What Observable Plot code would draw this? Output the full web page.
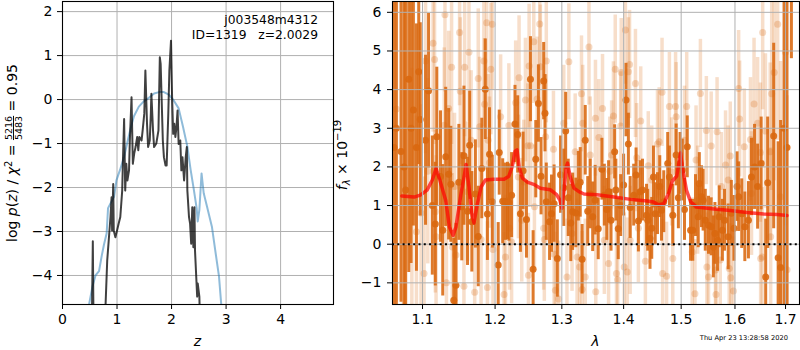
<!DOCTYPE html>
<html><head><meta charset="utf-8">
<script src="https://cdn.jsdelivr.net/npm/d3@7"></script>
<script src="https://cdn.jsdelivr.net/npm/@observablehq/plot@0.6"></script>
<style>
html,body{margin:0;padding:0;background:#fff;}
#wrap{position:relative;width:800px;height:350px;overflow:hidden;font-family:"DejaVu Sans",sans-serif;background:#fff;}
#wrap svg{position:absolute;top:0;overflow:visible;}
</style></head><body><div id="wrap"></div>
<script>
// ---------- Left panel data: log p(z) ----------
const zTicks = [0, 1, 2, 3, 4];
const logpTicks = [-4, -3, -2, -1, 0, 1, 2];
// smooth template p(z) (blue)
const pzBlue = [[0.45,-5.2],[0.49,-4.64],[0.55,-4.25],[0.605,-4.0],[0.67,-3.9],[0.72,-3.55],[0.76,-3.3],[0.81,-3.04],[0.835,-2.47],[0.88,-2.36],[0.945,-2.21],[0.99,-1.83],[1.055,-1.60],[1.13,-1.30],[1.19,-0.97],[1.25,-0.65],[1.31,-0.38],[1.40,-0.16],[1.49,-0.04],[1.585,0.04],[1.68,0.14],[1.77,0.17],[1.86,0.17],[1.95,0.11],[2.04,-0.02],[2.13,-0.20],[2.21,-0.62],[2.29,-1.07],[2.35,-1.60],[2.41,-2.06],[2.46,-2.47],[2.48,-2.77],[2.51,-2.51],[2.55,-1.68],[2.59,-2.13],[2.65,-2.43],[2.74,-2.89],[2.80,-3.42],[2.87,-4.02],[2.91,-4.64],[2.95,-5.2]];
// jagged p(z) (dark)
const pzDark = [[0.53,-6],[0.556,-3.22],[0.575,-6],[0.75,-6],[0.82,-3.66],[0.88,-2.67],[0.90,-2.22],[0.91,-2.98],[0.93,-1.92],[0.94,-2.98],[0.97,-3.13],[1.0,-2.98],[1.03,-2.82],[1.06,-2.67],[1.095,-2.07],[1.11,-1.31],[1.13,-0.44],[1.15,-2.07],[1.17,-1.46],[1.19,-1.84],[1.22,-1.61],[1.235,-0.93],[1.266,0.05],[1.29,-1.46],[1.315,-1.23],[1.34,-1.08],[1.37,-0.85],[1.39,-1.15],[1.41,-0.85],[1.45,-0.93],[1.47,-0.70],[1.50,-0.32],[1.52,0.66],[1.55,-0.55],[1.57,-1.08],[1.60,-0.93],[1.62,-0.32],[1.63,0.13],[1.66,-0.70],[1.68,-1.08],[1.72,-1.0],[1.76,-0.70],[1.785,0.96],[1.80,0.81],[1.84,-0.93],[1.86,-1.31],[1.89,-1.50],[1.91,-1.50],[1.94,-0.33],[1.96,0.66],[1.99,1.34],[2.01,0.05],[2.03,-0.78],[2.05,-0.55],[2.07,-0.85],[2.09,-0.63],[2.11,-0.25],[2.13,-1.01],[2.16,-0.93],[2.18,-1.61],[2.20,-1.31],[2.23,-1.84],[2.26,-1.31],[2.28,-1.08],[2.29,-2.07],[2.32,-2.67],[2.34,-2.82],[2.36,-3.28],[2.38,-2.45],[2.40,-3.36],[2.42,-2.45],[2.43,-3.43],[2.45,-3.96],[2.47,-4.48],[2.48,-4.18],[2.51,-4.48],[2.54,-6]];
const fieldName = "j003548m4312";
const objInfo = "ID=1319   z=2.0029";
const chi2Num = "5216", chi2Den = "5483", chi2Val = "0.95";

// ---------- Right panel data: spectrum (λ, f, err) ----------
const lamTicks = [1.1, 1.2, 1.3, 1.4, 1.5, 1.6, 1.7];
const fluxTicks = [-1, 0, 1, 2, 3, 4, 5, 6];
const zeroLevel = [0];
const specDark = [[1.063,2.5,5],[1.066,3.0,5],[1.072,2.4,3.9],[1.076,2.0,4.5],[1.078,1.40,4.9],[1.082,4.27,5.0],[1.085,3.0,3.5],[1.088,3.47,3.0],[1.092,2.5,3.2],[1.095,4.46,2.4],[1.097,3.23,2.5],[1.104,2.69,2.2],[1.108,3.97,2.0],[1.113,1.0,1.8],[1.117,0.52,1.6],[1.119,2.78,1.8],[1.124,1.75,1.7],[1.127,0.36,1.7],[1.131,2.26,1.8],[1.135,1.81,1.7],[1.138,1.55,1.5],[1.142,-1.45,1.6],[1.145,-1.06,1.6],[1.149,1.60,1.5],[1.153,0.97,1.4],[1.156,2.29,1.8],[1.161,0.85,1.4],[1.164,2.56,1.4],[1.167,0.58,1.3],[1.172,1.3,1.4],[1.176,0.2,1.3],[1.181,1.96,1.3],[1.186,4.01,1.3],[1.189,0.78,1.2],[1.192,2.33,1.2],[1.196,1.1,1.2],[1.2045,-0.54,1.1],[1.206,2.37,1.1],[1.211,1.11,1.1],[1.215,1.10,1.0],[1.218,1.12,1.0],[1.220,1.08,1.0],[1.224,1.27,1.1],[1.229,3.11,1.0],[1.233,2.84,1.0],[1.237,0.79,1.0],[1.241,1.9,1.0],[1.246,0.64,1.0],[1.252,4.27,1.1],[1.256,-0.65,1.0],[1.260,2.2,1.0],[1.264,3.64,1.0],[1.268,1.76,1.0],[1.272,4.22,1.0],[1.274,3.39,1.0],[1.276,1.10,1.0],[1.281,0.58,1.0],[1.284,0.79,1.0],[1.288,1.05,1.0],[1.293,-0.37,1.0],[1.298,1.8,1.0],[1.303,1.46,1.0],[1.306,2.93,1.0],[1.310,1.2,1.0],[1.314,0.55,1.0],[1.317,0.84,1.0],[1.322,0.81,0.9],[1.326,1.5,0.9],[1.329,1.60,0.9],[1.332,-0.39,0.9],[1.337,2.69,0.9],[1.341,0.85,0.9],[1.345,1.3,0.9],[1.349,0.71,0.9],[1.353,1.14,0.9],[1.358,0.4,0.8],[1.364,1.94,0.8],[1.368,1.27,0.8],[1.372,0.9,0.8],[1.375,1.36,0.8],[1.379,0.62,0.8],[1.385,2.39,0.7],[1.387,1.40,0.8],[1.391,0.40,0.8],[1.395,1.0,0.8],[1.400,1.53,0.8],[1.404,3.73,0.95],[1.408,2.59,0.8],[1.411,0.95,0.8],[1.417,1.27,0.8],[1.421,1.79,0.7],[1.425,0.6,0.8],[1.428,1.36,0.8],[1.432,1.40,0.8],[1.439,0.75,0.8],[1.441,0.62,0.8],[1.445,0.15,0.8],[1.448,0.41,0.8],[1.451,1.74,0.8],[1.454,0.79,0.8],[1.458,1.05,0.8],[1.462,1.49,0.8],[1.465,0.88,0.8],[1.469,1.10,0.8],[1.476,2.09,0.8],[1.479,1.74,0.8],[1.485,0.75,0.8],[1.491,2.31,0.8],[1.495,1.2,0.8],[1.498,2.09,0.8],[1.502,1.92,0.8],[1.506,0.9,0.8],[1.511,2.52,0.8],[1.517,0.36,0.8],[1.521,0.36,0.8],[1.526,1.0,0.8],[1.531,0.71,0.8],[1.533,1.57,0.8],[1.537,1.23,0.8],[1.540,1.14,0.8],[1.544,0.62,0.8],[1.550,0.49,0.75],[1.555,0.45,0.75],[1.559,-0.07,0.8],[1.562,0.28,0.8],[1.567,0.10,0.8],[1.570,0.71,0.8],[1.576,0.36,0.8],[1.580,0.62,0.8],[1.587,0.19,0.85],[1.593,0.8,0.85],[1.598,0.41,0.85],[1.604,1.49,0.9],[1.607,1.23,0.9],[1.613,0.79,0.9],[1.619,0.45,0.9],[1.626,0.62,1.0],[1.632,1.74,1.0],[1.638,2.0,1.1],[1.644,1.49,1.1],[1.651,2.09,1.2],[1.660,-0.85,1.5],[1.664,1.59,1.7],[1.676,2.80,2.4],[1.685,-0.35,3.0],[1.690,-0.6,3.8],[1.697,3.0,5],[1.703,2.5,4.5],[1.712,6.5,1.7]];
const specLight = [[1.066,3.5,5],[1.075,2.0,4.5],[1.086,1.05,3.5],[1.092,0.32,3],[1.098,0.81,2.8],[1.102,-0.76,2.5],[1.104,4.74,2.4],[1.107,1.89,2.4],[1.114,5.20,2.3],[1.116,4.78,2.2],[1.117,0.84,2.1],[1.118,0.19,2.1],[1.129,3.08,2.0],[1.130,5.94,2.0],[1.132,-1.00,2.0],[1.135,3.51,2.0],[1.139,4.58,2.0],[1.140,-0.07,1.9],[1.143,1.49,1.9],[1.145,-0.28,1.9],[1.150,5.48,1.9],[1.151,3.96,1.9],[1.156,-1.09,1.9],[1.157,4.58,1.8],[1.161,1.36,1.8],[1.163,4.97,1.8],[1.166,2.69,1.8],[1.171,-1.24,1.8],[1.176,4.29,1.8],[1.178,3.04,1.8],[1.180,0.12,1.8],[1.184,4.74,1.7],[1.185,3.62,1.7],[1.188,5.73,1.7],[1.189,-1.12,1.7],[1.190,2.69,1.7],[1.192,2.11,1.7],[1.194,4.53,1.7],[1.196,5.69,1.7],[1.197,-0.14,1.7],[1.208,3.30,1.6],[1.213,-1.30,1.6],[1.215,-0.33,1.6],[1.220,3.07,1.6],[1.221,0.41,1.6],[1.224,0.06,1.6],[1.230,3.66,1.6],[1.234,1.74,1.6],[1.235,4.31,1.6],[1.239,0.62,1.6],[1.242,1.61,1.6],[1.2445,3.73,1.6],[1.248,2.55,1.6],[1.249,-0.80,1.6],[1.250,4.61,1.6],[1.252,2.55,1.6],[1.257,5.24,1.6],[1.258,0.97,1.6],[1.262,3.76,1.6],[1.266,5.70,1.6],[1.267,4.59,1.6],[1.272,0.41,1.6],[1.273,0.12,1.6],[1.275,2.78,1.6],[1.276,4.74,1.6],[1.287,2.46,1.5],[1.288,-0.26,1.5],[1.290,-1.19,1.5],[1.295,-1.42,1.5],[1.303,3.13,1.5],[1.308,-0.85,1.5],[1.311,4.72,1.5],[1.316,0.28,1.5],[1.321,2.39,1.5],[1.324,-0.33,1.5],[1.328,-0.59,1.5],[1.331,3.89,1.5],[1.332,-1.17,1.5],[1.333,3.13,1.5],[1.337,-0.85,1.5],[1.343,5.10,1.5],[1.345,2.31,1.5],[1.3535,3.26,1.5],[1.354,-1.23,1.5],[1.359,2.76,1.5],[1.365,3.51,1.4],[1.368,0.10,1.4],[1.375,-0.50,1.4],[1.377,1.89,1.4],[1.380,2.31,1.4],[1.383,3.32,1.4],[1.386,4.53,1.4],[1.388,-0.76,1.4],[1.390,-0.92,1.4],[1.395,3.06,1.4],[1.396,4.44,1.4],[1.401,-0.59,1.4],[1.403,5.54,1.4],[1.406,-0.72,1.4],[1.408,4.46,1.4],[1.410,4.65,1.4],[1.411,0.10,1.4],[1.420,4.16,1.4],[1.422,2.24,1.4],[1.425,0.41,1.4],[1.429,3.19,1.4],[1.437,-0.44,1.4],[1.442,2.03,1.4],[1.448,1.66,1.4],[1.458,2.59,1.4],[1.461,2.65,1.4],[1.466,3.93,1.4],[1.467,-0.76,1.4],[1.474,-0.83,1.4],[1.479,3.56,1.4],[1.483,1.87,1.4],[1.485,-0.37,1.4],[1.490,3.56,1.4],[1.491,3.30,1.4],[1.506,2.69,1.4],[1.510,3.56,1.4],[1.520,-0.20,1.4],[1.525,-1.28,1.4],[1.527,2.18,1.4],[1.530,1.14,1.4],[1.535,3.90,1.4],[1.546,2.94,1.4],[1.547,-0.59,1.4],[1.550,-0.85,1.4],[1.555,2.54,1.4],[1.563,-0.67,1.4],[1.564,-1.30,1.4],[1.566,2.91,1.4],[1.572,-0.41,1.4],[1.574,1.49,1.4],[1.582,2.05,1.4],[1.587,1.66,1.4],[1.589,-0.63,1.4],[1.591,2.28,1.4],[1.592,-0.87,1.4],[1.597,-1.21,1.4],[1.607,4.03,1.5],[1.609,3.24,1.5],[1.618,2.52,1.5],[1.630,2.71,1.6],[1.632,1.31,1.6],[1.637,3.63,1.7],[1.644,3.13,1.7],[1.6496,2.37,1.8],[1.650,-0.37,1.8],[1.653,-0.33,1.8],[1.654,5.48,2.0],[1.6595,2.93,2.0],[1.669,2.39,2.3],[1.670,0.19,2.3],[1.672,3.89,2.5],[1.677,4.44,2.8],[1.684,5.69,3],[1.690,1.23,3.5],[1.700,4.97,4.5],[1.703,-0.66,4.5]];
const model = [[1.073,1.25],[1.089,1.22],[1.097,1.27],[1.106,1.40],[1.113,1.66],[1.118,1.96],[1.123,1.66],[1.131,1.14],[1.136,0.45],[1.141,0.23],[1.145,0.45],[1.152,1.31],[1.157,1.83],[1.159,2.06],[1.163,1.48],[1.167,0.79],[1.170,0.55],[1.174,0.97],[1.180,1.48],[1.186,1.66],[1.198,1.68],[1.213,1.68],[1.220,1.76],[1.225,2.01],[1.229,2.40],[1.232,2.44],[1.235,2.01],[1.240,1.71],[1.248,1.60],[1.258,1.54],[1.267,1.45],[1.282,1.41],[1.292,1.28],[1.297,1.14],[1.300,0.93],[1.304,1.49],[1.307,2.01],[1.309,2.10],[1.313,1.75],[1.319,1.45],[1.327,1.36],[1.335,1.30],[1.356,1.28],[1.384,1.22],[1.412,1.16],[1.440,1.12],[1.451,1.09],[1.460,1.02],[1.469,1.05],[1.478,1.33],[1.484,1.63],[1.492,1.76],[1.496,2.10],[1.499,2.36],[1.502,2.01],[1.5095,1.40],[1.517,1.10],[1.528,0.96],[1.560,0.91],[1.591,0.87],[1.623,0.82],[1.656,0.78],[1.683,0.77],[1.703,0.74]];
const timestamp = "Thu Apr 23 13:28:58 2020";

// ---------- styling ----------
const FONT = "DejaVu Sans, sans-serif";
const GRID = "#b0b0b0";
const ORANGE = "#d9680f";
const fmtNum = d => d < 0 ? "\u2212" + Math.abs(d) : String(d);
const baseStyle = {background: "transparent", fontFamily: FONT, fontSize: "14px", color: "black", overflow: "visible"};

const wrap = document.getElementById("wrap");

// ---------- Left panel ----------
const left = Plot.plot({
  width: 340, height: 350, marginLeft: 62, marginRight: 7, marginTop: 1, marginBottom: 46,
  style: baseStyle,
  x: {domain: [0, 4.97], label: null},
  y: {domain: [-4.66, 2.23], label: null},
  marks: [
    Plot.ruleX(zTicks, {stroke: GRID, strokeWidth: 1}),
    Plot.ruleY(logpTicks, {stroke: GRID, strokeWidth: 1}),
    Plot.line(pzBlue, {x: d => d[0], y: d => d[1], stroke: "#1f77b4", strokeOpacity: 0.5, strokeWidth: 2, clip: true}),
    Plot.line(pzDark, {x: d => d[0], y: d => d[1], stroke: "black", strokeOpacity: 0.75, strokeWidth: 2, clip: true}),
    Plot.frame({stroke: "black", strokeWidth: 1.1}),
    Plot.axisX(zTicks, {tickSize: 5, tickPadding: 5, tickFormat: fmtNum}),
    Plot.axisY(logpTicks, {tickSize: 5, tickPadding: 5, tickFormat: fmtNum})
  ]
});
left.style.left = "0px";
wrap.appendChild(left);

// ---------- Right panel ----------
const right = Plot.plot({
  width: 470, height: 350, marginLeft: 62, marginRight: 1, marginTop: 1, marginBottom: 46,
  style: baseStyle,
  x: {type: "log", domain: [1.0611, 1.7287], label: null},
  y: {domain: [-1.56, 6.28], label: null},
  marks: [
    Plot.ruleX(specLight, {x: d => d[0], y1: d => d[1] - d[2], y2: d => d[1] + d[2], stroke: ORANGE, strokeOpacity: 0.22, strokeWidth: 3.5, clip: true}),
    Plot.dot(specLight, {x: d => d[0], y: d => d[1], r: 3.5, fill: ORANGE, fillOpacity: 0.25, stroke: "none", clip: true}),
    Plot.ruleX(specDark, {x: d => d[0], y1: d => d[1] - d[2], y2: d => d[1] + d[2], stroke: ORANGE, strokeOpacity: 0.88, strokeWidth: 3, clip: true}),
    Plot.dot(specDark, {x: d => d[0], y: d => d[1], r: 3.5, fill: ORANGE, fillOpacity: 0.9, stroke: "none", clip: true}),
    Plot.line(model, {x: d => d[0], y: d => d[1], stroke: "red", strokeOpacity: 0.7, strokeWidth: 3.5, clip: true}),
    Plot.ruleX(lamTicks, {stroke: GRID, strokeWidth: 1}),
    Plot.ruleY(fluxTicks, {stroke: GRID, strokeWidth: 1}),
    Plot.ruleY(zeroLevel, {stroke: "black", strokeWidth: 2, strokeDasharray: "2,3.3"}),
    Plot.frame({stroke: "black", strokeWidth: 1.1}),
    Plot.axisX(lamTicks, {tickSize: 5, tickPadding: 5, tickFormat: d => d.toFixed(1)}),
    Plot.axisY(fluxTicks, {tickSize: 5, tickPadding: 6, tickFormat: fmtNum})
  ]
});
right.style.left = "330px";
wrap.appendChild(right);

// ---------- Text annotations ----------
const L = d3.select(left);
L.append("text").attr("x", 318).attr("y", 24).attr("text-anchor", "end")
  .attr("font-family", FONT).attr("font-size", 12.3).text(fieldName);
L.append("text").attr("x", 318).attr("y", 39).attr("text-anchor", "end")
  .attr("font-family", FONT).attr("font-size", 12.3).style("white-space", "pre").text(objInfo);
L.append("text").attr("x", 197.5).attr("y", 345.5).attr("text-anchor", "middle")
  .attr("font-family", FONT).attr("font-size", 14).attr("font-style", "italic").text("z");
// y label: log p(z) / chi^2 = num/den = val, with a stacked fraction
const yl = L.append("text").attr("transform", "translate(17,153) rotate(-90)").attr("text-anchor", "middle")
  .attr("font-family", FONT).attr("font-size", 14).style("white-space", "pre");
yl.append("tspan").text("log ");
yl.append("tspan").attr("font-style", "italic").text("p");
yl.append("tspan").text("(");
yl.append("tspan").attr("font-style", "italic").text("z");
yl.append("tspan").text(") / ");
yl.append("tspan").attr("font-style", "italic").text("\u03C7");
yl.append("tspan").attr("font-size", 10).attr("dy", -5).text("2");
yl.append("tspan").attr("dy", 5).text(" = ");
yl.append("tspan").attr("font-size", 9.5).attr("dy", -5).style("text-decoration", "underline").text(chi2Num);
yl.append("tspan").attr("font-size", 9.5).attr("dx", -24.2).attr("dy", 10).text(chi2Den);
yl.append("tspan").attr("dy", -5).text(" = " + chi2Val);

const R = d3.select(right);
R.append("text").attr("x", 265.5).attr("y", 345.5).attr("text-anchor", "middle")
  .attr("font-family", FONT).attr("font-size", 14).attr("font-style", "italic").text("\u03BB");
const ry = R.append("text").attr("transform", "translate(17,155) rotate(-90)").attr("text-anchor", "middle")
  .attr("font-family", FONT).attr("font-size", 14).style("white-space", "pre");
ry.append("tspan").attr("font-style", "italic").text("f");
ry.append("tspan").attr("font-size", 10).attr("font-style", "italic").attr("dy", 3).text("\u03BB");
ry.append("tspan").attr("dy", -3).text(" \u00D7 10");
ry.append("tspan").attr("font-size", 10).attr("dy", -6).text("\u221219");
R.append("text").attr("x", 458).attr("y", 339.5).attr("text-anchor", "end")
  .attr("font-family", FONT).attr("font-size", 6.7).text(timestamp);
</script></body></html>
